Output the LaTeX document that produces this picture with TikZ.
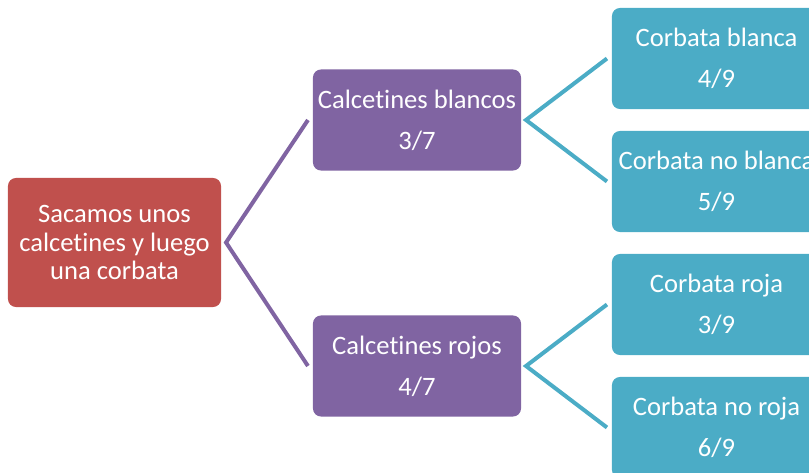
\documentclass[tikz,border=0pt]{standalone}
\usepackage{fontspec}
\setmainfont[Ligatures=NoCommon]{Carlito}
\definecolor{rojo}{HTML}{C0504D}
\definecolor{morado}{HTML}{8064A2}
\definecolor{turquesa}{HTML}{4BACC6}

\begin{document}
\begin{tikzpicture}[x=0.025cm,y=-0.025cm,
  caja/.style={rectangle,rounded corners=0.2cm,inner sep=0pt,outer xsep=0.125cm,
    text=white,align=center,font=\fontsize{18.9}{29.2}\selectfont},
  raiz/.style={caja,fill=rojo,minimum width=5.325cm,minimum height=3.225cm,
    font=\fontsize{18.9}{20.6}\selectfont},
  calcetin/.style={caja,fill=morado,minimum width=5.2cm,minimum height=2.525cm},
  corbata/.style={caja,fill=turquesa,minimum width=5.225cm,minimum height=2.525cm},
  rama/.style={line width=0.1cm,miter limit=10}]
\clip (0,0) rectangle (809,473);
\node[raiz] (inicio) at (114.5,242.5) {Sacamos unos\\calcetines y luego\\una corbata};
\node[calcetin] (blancos) at (417,120) {Calcetines blancos\\3/7};
\node[calcetin] (rojos) at (417,366) {Calcetines rojos\\4/7};
\node[corbata] (cb) at (716.5,58.5) {Corbata blanca\\4/9};
\node[corbata] (cnb) at (716.5,181.5) {Corbata no blanca\\5/9};
\node[corbata] (cr) at (716.5,304.5) {Corbata roja\\3/9};
\node[corbata] (cnr) at (716.5,427.5) {Corbata no roja\\6/9};
\draw[rama,morado] (blancos.west) -- (inicio.east) -- (rojos.west);
\draw[rama,turquesa] (cb.west) -- (blancos.east) -- (cnb.west);
\draw[rama,turquesa] (cr.west) -- (rojos.east) -- (cnr.west);
\end{tikzpicture}
\end{document}
